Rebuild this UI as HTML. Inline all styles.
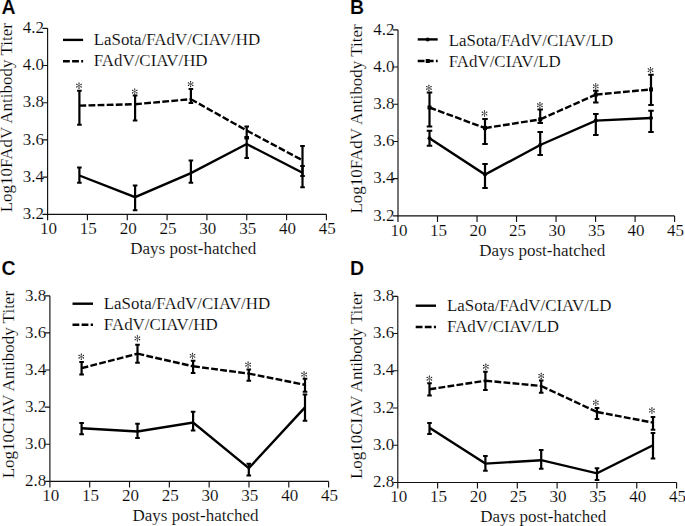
<!DOCTYPE html>
<html><head><meta charset="utf-8"><style>
html,body{margin:0;padding:0;background:#fff;width:685px;height:526px;overflow:hidden}
svg{display:block}
text{fill:#000;stroke:#fff;stroke-width:0.15px}
</style></head><body>
<svg width="685" height="526" viewBox="0 0 685 526">
<rect width="685" height="526" fill="#fff"/>
<g font-family="'Liberation Serif', serif" font-size="17"><path d="M47.6 28.3V214.3H326.4" fill="none" stroke="#111" stroke-width="1.15"/>
<path d="M42.4 214.3H47.6M42.4 177.1H47.6M42.4 139.9H47.6M42.4 102.7H47.6M42.4 65.5H47.6M42.4 28.3H47.6M47.6 214.3V220.3M87.43 214.3V220.3M127.26 214.3V220.3M167.09 214.3V220.3M206.91 214.3V220.3M246.74 214.3V220.3M286.57 214.3V220.3M326.4 214.3V220.3" fill="none" stroke="#111" stroke-width="1.15"/>
<text x="44" y="219" text-anchor="end">3.2</text>
<text x="44" y="181.8" text-anchor="end">3.4</text>
<text x="44" y="144.6" text-anchor="end">3.6</text>
<text x="44" y="107.4" text-anchor="end">3.8</text>
<text x="44" y="70.2" text-anchor="end">4.0</text>
<text x="44" y="33" text-anchor="end">4.2</text>
<text x="48.5" y="233.9" text-anchor="middle">10</text>
<text x="88.33" y="233.9" text-anchor="middle">15</text>
<text x="128.16" y="233.9" text-anchor="middle">20</text>
<text x="167.99" y="233.9" text-anchor="middle">25</text>
<text x="207.81" y="233.9" text-anchor="middle">30</text>
<text x="247.64" y="233.9" text-anchor="middle">35</text>
<text x="287.47" y="233.9" text-anchor="middle">40</text>
<text x="327.3" y="233.9" text-anchor="middle">45</text>
<text x="130.3" y="254.1">Days post-hatched</text>
<text transform="translate(11.8 212.3) rotate(-90)">Log10FAdV Antibody Titer</text>
<text x="1.4" y="13.8" font-family="'Liberation Sans', sans-serif" font-weight="bold" font-size="19.5">A</text>
<path d="M63 39.9H83.1" stroke="#000" stroke-width="2.4"/>
<path d="M63 61.2H83.1" stroke="#000" stroke-width="2.4" stroke-dasharray="6.8 2.3"/>
<text x="93.7" y="45.2" font-size="16.9">LaSota/FAdV/CIAV/HD</text>
<text x="93.7" y="66.4" font-size="16.9">FAdV/CIAV/HD</text>
<path d="M79.4 175.5 L135.1 197.1 L190.9 173.1 L246.7 144 L302.5 172.7" fill="none" stroke="#000" stroke-width="2.4" stroke-linejoin="miter"/>
<path d="M79.4 167.6V182.8M135.1 185.6V210.2M190.9 160.5V182.7M246.7 138.5V158M302.5 166V187.3" stroke="#000" stroke-width="2.2"/>
<path d="M77.1 167.6H81.7M77.1 182.8H81.7M132.8 185.6H137.4M132.8 210.2H137.4M188.6 160.5H193.2M188.6 182.7H193.2M244.4 138.5H249M244.4 158H249M300.2 166H304.8M300.2 187.3H304.8" stroke="#000" stroke-width="2.0"/>
<path d="M79.4 105.6L135.1 104.2" fill="none" stroke="#000" stroke-width="2.4" stroke-dasharray="6.8 2.3"/>
<path d="M135.1 104.2L190.9 99.2" fill="none" stroke="#000" stroke-width="2.4" stroke-dasharray="6.8 2.3"/>
<path d="M190.9 99.2L246.7 130.5" fill="none" stroke="#000" stroke-width="2.4" stroke-dasharray="6.8 2.3"/>
<path d="M246.7 130.5L302.5 160.3" fill="none" stroke="#000" stroke-width="2.4" stroke-dasharray="6.8 2.3"/>
<path d="M79.4 90.8V124.7M135.1 95.5V120.6M190.9 89.1V103M246.7 126.4V137M302.5 146.1V176.1" stroke="#000" stroke-width="2.2"/>
<path d="M77.1 90.8H81.7M77.1 124.7H81.7M132.8 95.5H137.4M132.8 120.6H137.4M188.6 89.1H193.2M188.6 103H193.2M244.4 126.4H249M244.4 137H249M300.2 146.1H304.8M300.2 176.1H304.8" stroke="#000" stroke-width="2.0"/>
<path d="M79 85.6l0 -3M79 85.6l2.6 -1.5M79 85.6l2.6 1.5M79 85.6l0 3M79 85.6l-2.6 -1.5M79 85.6l-2.6 1.5M134.7 91.6l0 -3M134.7 91.6l2.6 -1.5M134.7 91.6l2.6 1.5M134.7 91.6l0 3M134.7 91.6l-2.6 -1.5M134.7 91.6l-2.6 1.5M190.6 84.1l0 -3M190.6 84.1l2.6 -1.5M190.6 84.1l2.6 1.5M190.6 84.1l0 3M190.6 84.1l-2.6 -1.5M190.6 84.1l-2.6 1.5" stroke="#555" stroke-width="0.8" fill="none"/>
<path d="M78.99 83.05h0.02M81.2 84.32h0.02M81.2 86.88h0.02M78.99 88.15h0.02M76.78 84.32h0.02M76.78 86.88h0.02M134.69 89.05h0.02M136.9 90.32h0.02M136.9 92.88h0.02M134.69 94.15h0.02M132.48 90.32h0.02M132.48 92.88h0.02M190.59 81.55h0.02M192.8 82.82h0.02M192.8 85.38h0.02M190.59 86.65h0.02M188.38 82.82h0.02M188.38 85.38h0.02" stroke="#1a1a1a" stroke-width="1.25" stroke-linecap="round" fill="none"/></g>
<g font-family="'Liberation Serif', serif" font-size="17"><path d="M398 29.8V215.9H674.6" fill="none" stroke="#111" stroke-width="1.15"/>
<path d="M392.8 215.9H398M392.8 178.68H398M392.8 141.46H398M392.8 104.24H398M392.8 67.02H398M392.8 29.8H398M398 215.9V221.9M437.51 215.9V221.9M477.03 215.9V221.9M516.54 215.9V221.9M556.06 215.9V221.9M595.57 215.9V221.9M635.09 215.9V221.9M674.6 215.9V221.9" fill="none" stroke="#111" stroke-width="1.15"/>
<text x="394.4" y="220.6" text-anchor="end">3.2</text>
<text x="394.4" y="183.38" text-anchor="end">3.4</text>
<text x="394.4" y="146.16" text-anchor="end">3.6</text>
<text x="394.4" y="108.94" text-anchor="end">3.8</text>
<text x="394.4" y="71.72" text-anchor="end">4.0</text>
<text x="394.4" y="34.5" text-anchor="end">4.2</text>
<text x="398.9" y="235.5" text-anchor="middle">10</text>
<text x="438.41" y="235.5" text-anchor="middle">15</text>
<text x="477.93" y="235.5" text-anchor="middle">20</text>
<text x="517.44" y="235.5" text-anchor="middle">25</text>
<text x="556.96" y="235.5" text-anchor="middle">30</text>
<text x="596.47" y="235.5" text-anchor="middle">35</text>
<text x="635.99" y="235.5" text-anchor="middle">40</text>
<text x="675.5" y="235.5" text-anchor="middle">45</text>
<text x="479.3" y="255.7">Days post-hatched</text>
<text transform="translate(361.7 213.6) rotate(-90)">Log10FAdV Antibody Titer</text>
<text x="349.9" y="13.8" font-family="'Liberation Sans', sans-serif" font-weight="bold" font-size="19.5">B</text>
<path d="M417.7 39.4H437.7" stroke="#000" stroke-width="2.4"/>
<path d="M417.7 61H437.7" stroke="#000" stroke-width="2.4" stroke-dasharray="6.8 2.3"/>
<text x="448.7" y="45.5" font-size="16.9">LaSota/FAdV/CIAV/LD</text>
<text x="448.7" y="67" font-size="16.9">FAdV/CIAV/LD</text>
<circle cx="427.7" cy="39.4" r="2.0"/>
<rect x="425.7" y="59" width="4" height="4"/>
<path d="M429.5 138.3 L485 174.6 L540.2 145 L595.8 120.6 L651 118" fill="none" stroke="#000" stroke-width="2.4" stroke-linejoin="miter"/>
<path d="M429.5 130.8V145.8M485 163.9V187.9M540.2 132V155.1M595.8 114V135.1M651 110.8V132.1" stroke="#000" stroke-width="2.2"/>
<path d="M426.75 130.8H432.25M426.75 145.8H432.25M482.25 163.9H487.75M482.25 187.9H487.75M537.45 132H542.95M537.45 155.1H542.95M593.05 114H598.55M593.05 135.1H598.55M648.25 110.8H653.75M648.25 132.1H653.75" stroke="#000" stroke-width="2.0"/>
<circle cx="429.5" cy="138.3" r="2.0"/>
<circle cx="485" cy="174.6" r="2.0"/>
<circle cx="540.2" cy="145" r="2.0"/>
<circle cx="595.8" cy="120.6" r="2.0"/>
<circle cx="651" cy="118" r="2.0"/>
<path d="M429.5 107.5L485 128.1" fill="none" stroke="#000" stroke-width="2.4" stroke-dasharray="6.8 2.3"/>
<path d="M485 128.1L540.2 119.4" fill="none" stroke="#000" stroke-width="2.4" stroke-dasharray="6.8 2.3"/>
<path d="M540.2 119.4L595.8 94.6" fill="none" stroke="#000" stroke-width="2.4" stroke-dasharray="6.8 2.3"/>
<path d="M595.8 94.6L651 89.4" fill="none" stroke="#000" stroke-width="2.4" stroke-dasharray="6.8 2.3"/>
<path d="M429.5 92.4V126.5M485 118.9V144.1M540.2 109.6V122.9M595.8 90.8V102.5M651 74.8V105.1" stroke="#000" stroke-width="2.2"/>
<path d="M426.75 92.4H432.25M426.75 126.5H432.25M482.25 118.9H487.75M482.25 144.1H487.75M537.45 109.6H542.95M537.45 122.9H542.95M593.05 90.8H598.55M593.05 102.5H598.55M648.25 74.8H653.75M648.25 105.1H653.75" stroke="#000" stroke-width="2.0"/>
<rect x="427.5" y="105.5" width="4" height="4"/>
<rect x="483" y="126.1" width="4" height="4"/>
<rect x="538.2" y="117.4" width="4" height="4"/>
<rect x="593.8" y="92.6" width="4" height="4"/>
<rect x="649" y="87.4" width="4" height="4"/>
<path d="M428.9 87.9l0 -3M428.9 87.9l2.6 -1.5M428.9 87.9l2.6 1.5M428.9 87.9l0 3M428.9 87.9l-2.6 -1.5M428.9 87.9l-2.6 1.5M484.5 113.5l0 -3M484.5 113.5l2.6 -1.5M484.5 113.5l2.6 1.5M484.5 113.5l0 3M484.5 113.5l-2.6 -1.5M484.5 113.5l-2.6 1.5M539.9 105.2l0 -3M539.9 105.2l2.6 -1.5M539.9 105.2l2.6 1.5M539.9 105.2l0 3M539.9 105.2l-2.6 -1.5M539.9 105.2l-2.6 1.5M595.7 86.3l0 -3M595.7 86.3l2.6 -1.5M595.7 86.3l2.6 1.5M595.7 86.3l0 3M595.7 86.3l-2.6 -1.5M595.7 86.3l-2.6 1.5M650.5 70.1l0 -3M650.5 70.1l2.6 -1.5M650.5 70.1l2.6 1.5M650.5 70.1l0 3M650.5 70.1l-2.6 -1.5M650.5 70.1l-2.6 1.5" stroke="#555" stroke-width="0.8" fill="none"/>
<path d="M428.89 85.35h0.02M431.1 86.62h0.02M431.1 89.18h0.02M428.89 90.45h0.02M426.68 86.62h0.02M426.68 89.18h0.02M484.49 110.95h0.02M486.7 112.22h0.02M486.7 114.78h0.02M484.49 116.05h0.02M482.28 112.22h0.02M482.28 114.78h0.02M539.89 102.65h0.02M542.1 103.92h0.02M542.1 106.48h0.02M539.89 107.75h0.02M537.68 103.92h0.02M537.68 106.48h0.02M595.69 83.75h0.02M597.9 85.02h0.02M597.9 87.58h0.02M595.69 88.85h0.02M593.48 85.02h0.02M593.48 87.58h0.02M650.49 67.55h0.02M652.7 68.82h0.02M652.7 71.38h0.02M650.49 72.65h0.02M648.28 68.82h0.02M648.28 71.38h0.02" stroke="#1a1a1a" stroke-width="1.25" stroke-linecap="round" fill="none"/></g>
<g font-family="'Liberation Serif', serif" font-size="17"><path d="M49.9 295.8V481.4H328.6" fill="none" stroke="#111" stroke-width="1.15"/>
<path d="M44.7 481.4H49.9M44.7 444.28H49.9M44.7 407.16H49.9M44.7 370.04H49.9M44.7 332.92H49.9M44.7 295.8H49.9M49.9 481.4V487.4M89.71 481.4V487.4M129.53 481.4V487.4M169.34 481.4V487.4M209.16 481.4V487.4M248.97 481.4V487.4M288.79 481.4V487.4M328.6 481.4V487.4" fill="none" stroke="#111" stroke-width="1.15"/>
<text x="46.3" y="486.1" text-anchor="end">2.8</text>
<text x="46.3" y="448.98" text-anchor="end">3.0</text>
<text x="46.3" y="411.86" text-anchor="end">3.2</text>
<text x="46.3" y="374.74" text-anchor="end">3.4</text>
<text x="46.3" y="337.62" text-anchor="end">3.6</text>
<text x="46.3" y="300.5" text-anchor="end">3.8</text>
<text x="50.8" y="501" text-anchor="middle">10</text>
<text x="90.61" y="501" text-anchor="middle">15</text>
<text x="130.43" y="501" text-anchor="middle">20</text>
<text x="170.24" y="501" text-anchor="middle">25</text>
<text x="210.06" y="501" text-anchor="middle">30</text>
<text x="249.87" y="501" text-anchor="middle">35</text>
<text x="289.69" y="501" text-anchor="middle">40</text>
<text x="329.5" y="501" text-anchor="middle">45</text>
<text x="132.5" y="520.8">Days post-hatched</text>
<text transform="translate(13.9 478.3) rotate(-90)">Log10CIAV Antibody Titer</text>
<text x="1.4" y="275.4" font-family="'Liberation Sans', sans-serif" font-weight="bold" font-size="19.5">C</text>
<path d="M72.5 303.7H93" stroke="#000" stroke-width="2.4"/>
<path d="M72.5 324.8H93" stroke="#000" stroke-width="2.4" stroke-dasharray="6.8 2.3"/>
<text x="103.8" y="308.7" font-size="16.9">LaSota/FAdV/CIAV/HD</text>
<text x="103.8" y="330.3" font-size="16.9">FAdV/CIAV/HD</text>
<path d="M81.6 428.2 L137.5 431.5 L193.1 422.5 L248.8 468.2 L305 407.4" fill="none" stroke="#000" stroke-width="2.4" stroke-linejoin="miter"/>
<path d="M81.6 423V434.3M137.5 423.8V438M193.1 411.8V430.5M248.8 463.7V475.6M305 394.6V420.8" stroke="#000" stroke-width="2.2"/>
<path d="M79.3 423H83.9M79.3 434.3H83.9M135.2 423.8H139.8M135.2 438H139.8M190.8 411.8H195.4M190.8 430.5H195.4M246.5 463.7H251.1M246.5 475.6H251.1M302.7 394.6H307.3M302.7 420.8H307.3" stroke="#000" stroke-width="2.0"/>
<path d="M81.6 368.2L137.5 353.7" fill="none" stroke="#000" stroke-width="2.4" stroke-dasharray="6.8 2.3"/>
<path d="M137.5 353.7L193.1 366.3" fill="none" stroke="#000" stroke-width="2.4" stroke-dasharray="6.8 2.3"/>
<path d="M193.1 366.3L248.8 373.6" fill="none" stroke="#000" stroke-width="2.4" stroke-dasharray="6.8 2.3"/>
<path d="M248.8 373.6L305 384.8" fill="none" stroke="#000" stroke-width="2.4" stroke-dasharray="6.8 2.3"/>
<path d="M81.6 362V374.4M137.5 344.7V362.8M193.1 360.7V373M248.8 369.5V380.8M305 378.7V391.7" stroke="#000" stroke-width="2.2"/>
<path d="M79.3 362H83.9M79.3 374.4H83.9M135.2 344.7H139.8M135.2 362.8H139.8M190.8 360.7H195.4M190.8 373H195.4M246.5 369.5H251.1M246.5 380.8H251.1M302.7 378.7H307.3M302.7 391.7H307.3" stroke="#000" stroke-width="2.0"/>
<path d="M81.3 356.7l0 -3M81.3 356.7l2.6 -1.5M81.3 356.7l2.6 1.5M81.3 356.7l0 3M81.3 356.7l-2.6 -1.5M81.3 356.7l-2.6 1.5M137.4 338.4l0 -3M137.4 338.4l2.6 -1.5M137.4 338.4l2.6 1.5M137.4 338.4l0 3M137.4 338.4l-2.6 -1.5M137.4 338.4l-2.6 1.5M192.5 355.8l0 -3M192.5 355.8l2.6 -1.5M192.5 355.8l2.6 1.5M192.5 355.8l0 3M192.5 355.8l-2.6 -1.5M192.5 355.8l-2.6 1.5M248.1 364.6l0 -3M248.1 364.6l2.6 -1.5M248.1 364.6l2.6 1.5M248.1 364.6l0 3M248.1 364.6l-2.6 -1.5M248.1 364.6l-2.6 1.5M304.1 374.5l0 -3M304.1 374.5l2.6 -1.5M304.1 374.5l2.6 1.5M304.1 374.5l0 3M304.1 374.5l-2.6 -1.5M304.1 374.5l-2.6 1.5" stroke="#555" stroke-width="0.8" fill="none"/>
<path d="M81.29 354.15h0.02M83.5 355.43h0.02M83.5 357.97h0.02M81.29 359.25h0.02M79.08 355.43h0.02M79.08 357.97h0.02M137.39 335.85h0.02M139.6 337.12h0.02M139.6 339.67h0.02M137.39 340.95h0.02M135.18 337.12h0.02M135.18 339.67h0.02M192.49 353.25h0.02M194.7 354.53h0.02M194.7 357.07h0.02M192.49 358.35h0.02M190.28 354.53h0.02M190.28 357.07h0.02M248.09 362.05h0.02M250.3 363.33h0.02M250.3 365.88h0.02M248.09 367.15h0.02M245.88 363.33h0.02M245.88 365.88h0.02M304.09 371.95h0.02M306.3 373.23h0.02M306.3 375.77h0.02M304.09 377.05h0.02M301.88 373.23h0.02M301.88 375.77h0.02" stroke="#1a1a1a" stroke-width="1.25" stroke-linecap="round" fill="none"/></g>
<g font-family="'Liberation Serif', serif" font-size="17"><path d="M397.8 296.3V482.5H676.6" fill="none" stroke="#111" stroke-width="1.15"/>
<path d="M392.6 482.5H397.8M392.6 445.26H397.8M392.6 408.02H397.8M392.6 370.78H397.8M392.6 333.54H397.8M392.6 296.3H397.8M397.8 482.5V488.5M437.63 482.5V488.5M477.46 482.5V488.5M517.29 482.5V488.5M557.11 482.5V488.5M596.94 482.5V488.5M636.77 482.5V488.5M676.6 482.5V488.5" fill="none" stroke="#111" stroke-width="1.15"/>
<text x="394.2" y="487.2" text-anchor="end">2.8</text>
<text x="394.2" y="449.96" text-anchor="end">3.0</text>
<text x="394.2" y="412.72" text-anchor="end">3.2</text>
<text x="394.2" y="375.48" text-anchor="end">3.4</text>
<text x="394.2" y="338.24" text-anchor="end">3.6</text>
<text x="394.2" y="301" text-anchor="end">3.8</text>
<text x="398.7" y="502.1" text-anchor="middle">10</text>
<text x="438.53" y="502.1" text-anchor="middle">15</text>
<text x="478.36" y="502.1" text-anchor="middle">20</text>
<text x="518.19" y="502.1" text-anchor="middle">25</text>
<text x="558.01" y="502.1" text-anchor="middle">30</text>
<text x="597.84" y="502.1" text-anchor="middle">35</text>
<text x="637.67" y="502.1" text-anchor="middle">40</text>
<text x="677.5" y="502.1" text-anchor="middle">45</text>
<text x="480.3" y="521.9">Days post-hatched</text>
<text transform="translate(361.9 479.1) rotate(-90)">Log10CIAV Antibody Titer</text>
<text x="350.1" y="274.7" font-family="'Liberation Sans', sans-serif" font-weight="bold" font-size="19.5">D</text>
<path d="M415.7 305.7H436" stroke="#000" stroke-width="2.4"/>
<path d="M415.7 327H436" stroke="#000" stroke-width="2.4" stroke-dasharray="6.8 2.3"/>
<text x="447" y="311" font-size="16.9">LaSota/FAdV/CIAV/LD</text>
<text x="447" y="332.4" font-size="16.9">FAdV/CIAV/LD</text>
<path d="M429.5 427.8 L485.4 463.6 L541.2 460.2 L597 473.3 L653 445.2" fill="none" stroke="#000" stroke-width="2.4" stroke-linejoin="miter"/>
<path d="M429.5 423V434.1M485.4 456V470.8M541.2 449.9V468.8M597 468.3V480.1M653 433V458.6" stroke="#000" stroke-width="2.2"/>
<path d="M427.2 423H431.8M427.2 434.1H431.8M483.1 456H487.7M483.1 470.8H487.7M538.9 449.9H543.5M538.9 468.8H543.5M594.7 468.3H599.3M594.7 480.1H599.3M650.7 433H655.3M650.7 458.6H655.3" stroke="#000" stroke-width="2.0"/>
<path d="M429.5 389.3L485.4 380.7" fill="none" stroke="#000" stroke-width="2.4" stroke-dasharray="6.8 2.3"/>
<path d="M485.4 380.7L541.2 386" fill="none" stroke="#000" stroke-width="2.4" stroke-dasharray="6.8 2.3"/>
<path d="M541.2 386L597 412" fill="none" stroke="#000" stroke-width="2.4" stroke-dasharray="6.8 2.3"/>
<path d="M597 412L653 422.6" fill="none" stroke="#000" stroke-width="2.4" stroke-dasharray="6.8 2.3"/>
<path d="M429.5 383.2V395.6M485.4 371.7V390.1M541.2 380.6V392.8M597 407.9V419M653 417V429.8" stroke="#000" stroke-width="2.2"/>
<path d="M427.2 383.2H431.8M427.2 395.6H431.8M483.1 371.7H487.7M483.1 390.1H487.7M538.9 380.6H543.5M538.9 392.8H543.5M594.7 407.9H599.3M594.7 419H599.3M650.7 417H655.3M650.7 429.8H655.3" stroke="#000" stroke-width="2.0"/>
<path d="M429.4 378.7l0 -3M429.4 378.7l2.6 -1.5M429.4 378.7l2.6 1.5M429.4 378.7l0 3M429.4 378.7l-2.6 -1.5M429.4 378.7l-2.6 1.5M485.8 366.7l0 -3M485.8 366.7l2.6 -1.5M485.8 366.7l2.6 1.5M485.8 366.7l0 3M485.8 366.7l-2.6 -1.5M485.8 366.7l-2.6 1.5M541.2 375.9l0 -3M541.2 375.9l2.6 -1.5M541.2 375.9l2.6 1.5M541.2 375.9l0 3M541.2 375.9l-2.6 -1.5M541.2 375.9l-2.6 1.5M595.8 402.7l0 -3M595.8 402.7l2.6 -1.5M595.8 402.7l2.6 1.5M595.8 402.7l0 3M595.8 402.7l-2.6 -1.5M595.8 402.7l-2.6 1.5M651.9 410.5l0 -3M651.9 410.5l2.6 -1.5M651.9 410.5l2.6 1.5M651.9 410.5l0 3M651.9 410.5l-2.6 -1.5M651.9 410.5l-2.6 1.5" stroke="#555" stroke-width="0.8" fill="none"/>
<path d="M429.39 376.15h0.02M431.6 377.43h0.02M431.6 379.97h0.02M429.39 381.25h0.02M427.18 377.43h0.02M427.18 379.97h0.02M485.79 364.15h0.02M488 365.43h0.02M488 367.97h0.02M485.79 369.25h0.02M483.58 365.43h0.02M483.58 367.97h0.02M541.19 373.35h0.02M543.4 374.62h0.02M543.4 377.17h0.02M541.19 378.45h0.02M538.98 374.62h0.02M538.98 377.17h0.02M595.79 400.15h0.02M598 401.43h0.02M598 403.97h0.02M595.79 405.25h0.02M593.58 401.43h0.02M593.58 403.97h0.02M651.89 407.95h0.02M654.1 409.23h0.02M654.1 411.77h0.02M651.89 413.05h0.02M649.68 409.23h0.02M649.68 411.77h0.02" stroke="#1a1a1a" stroke-width="1.25" stroke-linecap="round" fill="none"/></g>
</svg>
</body></html>
